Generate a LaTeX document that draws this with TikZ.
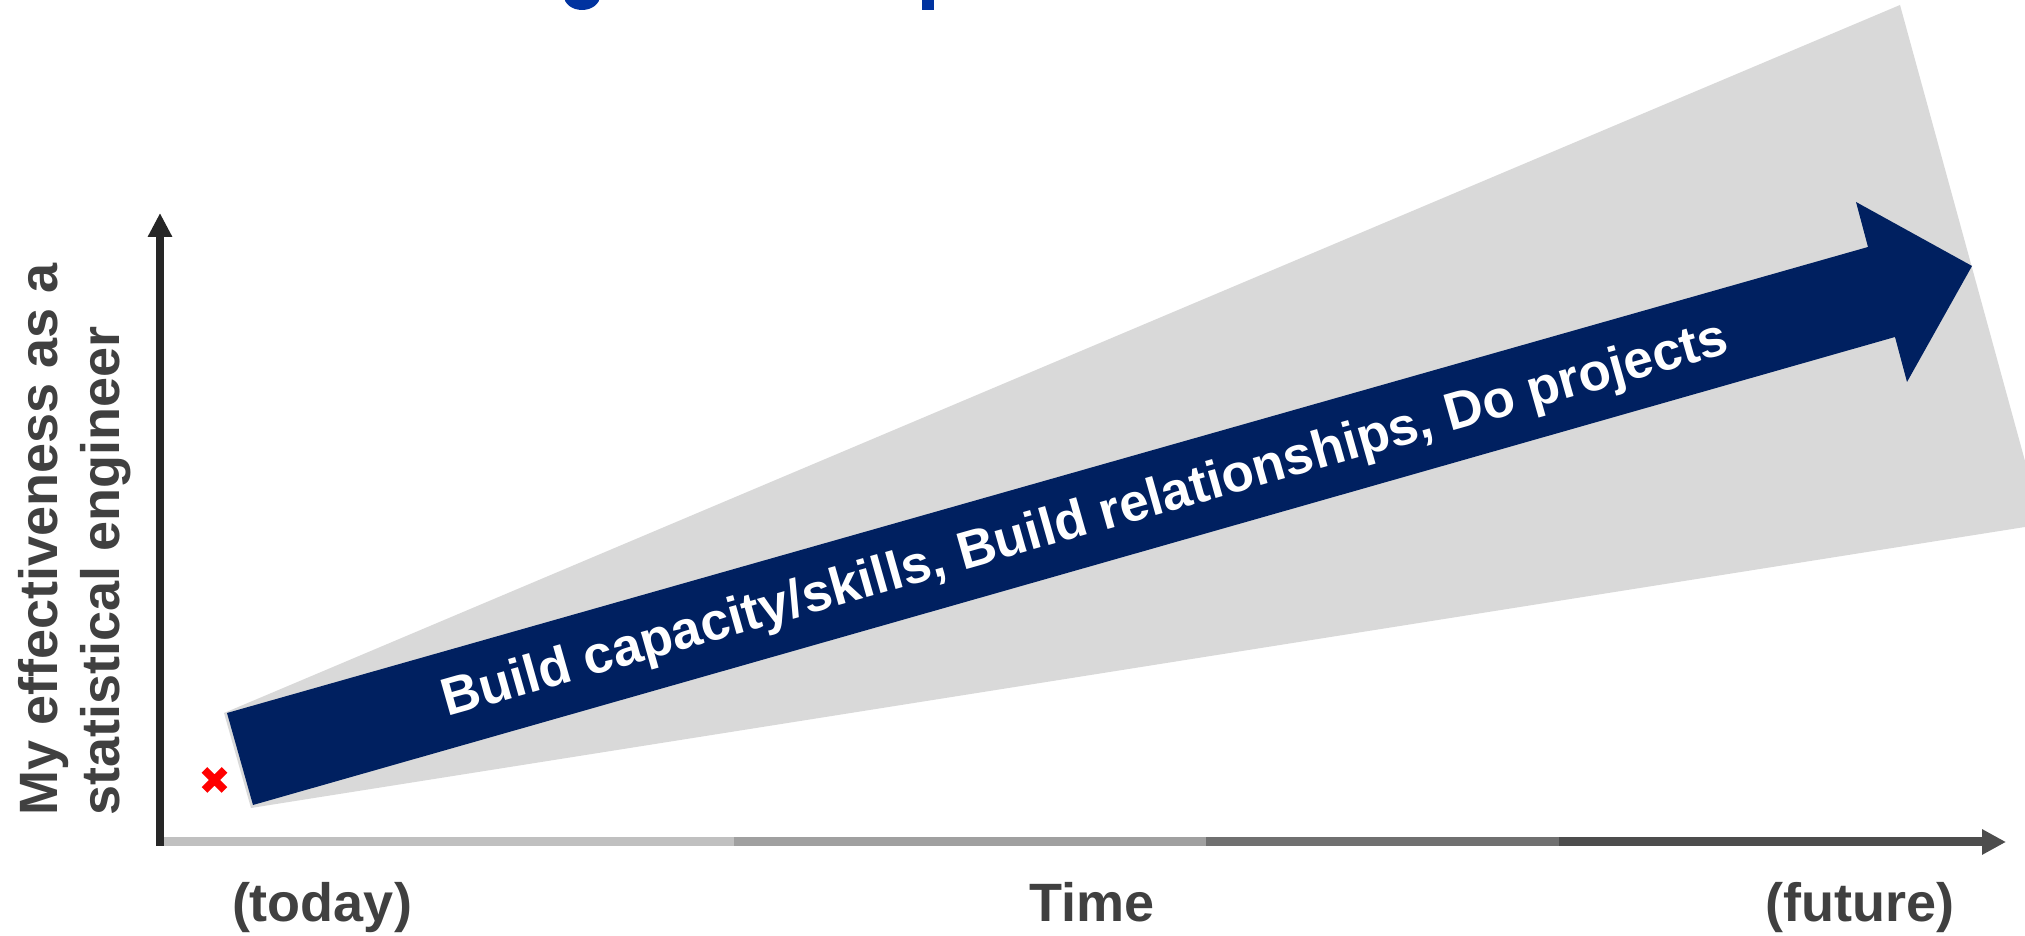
\documentclass[tikz,border=0pt]{standalone}
\usepackage{fontspec}
\setmainfont{Liberation Sans}
\usetikzlibrary{arrows.meta,positioning}
\usepackage{xcolor}

\definecolor{navy}{RGB}{0,32,96}
\definecolor{wedge}{RGB}{217,217,217}
\definecolor{ink}{RGB}{64,64,64}
\definecolor{axisdark}{RGB}{38,38,38}
\definecolor{titleblue}{RGB}{0,51,160}
\definecolor{tA}{RGB}{192,192,192}
\definecolor{tB}{RGB}{160,160,160}
\definecolor{tC}{RGB}{112,112,112}
\definecolor{tD}{RGB}{77,77,77}

\begin{document}
\begin{tikzpicture}[x=50pt, y=50pt,
    lbl/.style={font=\bfseries\fontsize{27}{31}\selectfont, text=ink,
                inner sep=0pt},
    tseg/.style={line width=4.5pt, draw=#1},
    tip/.style={-{Triangle[length=12pt, width=#1]}}]

  \useasboundingbox (0,0) rectangle (20.25,9.36);
  \clip (0,0) rectangle (20.25,9.36);

  %% Bits of the heading that run off the top
  \fill[titleblue] (5.82,9.40) ellipse [x radius=0.18, y radius=0.14];
  \fill[titleblue] (9.215,9.26) rectangle (9.34,9.40);

  %% Widening grey band behind the arrow
  \fill[wedge] (2.51,1.28) -- (20.25,4.09) -- (20.25,4.75)
    -- (19.00,9.31) -- (2.24,2.23) -- cycle;

  %% Big block arrow
  \fill[navy] (2.27,2.23) -- (18.68,6.89) -- (18.56,7.34) -- (19.72,6.70)
    -- (19.07,5.54) -- (18.95,5.99) -- (2.53,1.31) -- cycle;
  \node[font=\bfseries\fontsize{26.5}{30}\selectfont, text=white,
        rotate=15.85, anchor=base, inner sep=0pt] (work) at (10.89,4.015)
    {Build capacity/skills, Build relationships, Do projects};

  %% Axes
  \coordinate (o)    at (1.60,0.94);
  \coordinate (ybot) at (1.60,0.90);
  \coordinate (ytop) at (1.60,7.23);
  \coordinate (t1)   at (7.34,0.94);
  \coordinate (t2)   at (12.06,0.94);
  \coordinate (t3)   at (15.59,0.94);
  \coordinate (xend) at (20.06,0.94);

  %% time axis gets darker towards the future
  \draw[tseg=tA] (o) -- (t1);
  \draw[tseg=tB] (t1) -- (t2);
  \draw[tseg=tC] (t2) -- (t3);
  \draw[tseg=tD, tip=12pt] (t3) -- (xend);
  \draw[line width=4pt, axisdark, tip=11.5pt] (ybot) -- (ytop);

  %% where I am now
  \draw[red, line width=4pt] (2.045,1.46) -- (2.245,1.66)
    (2.045,1.66) -- (2.245,1.46);

  %% Axis labels
  \node[lbl, rotate=90, align=left, anchor=south west] (ylab) at (1.31,1.20)
    {My effectiveness as a\\statistical engineer};
  \node[lbl, anchor=base] (today)  at (3.22,0.14)  {(today)};
  \node[lbl, anchor=base] (time)   at (10.92,0.14) {Time};
  \node[lbl, anchor=base] (future) at (18.60,0.14) {(future)};
\end{tikzpicture}
\end{document}
